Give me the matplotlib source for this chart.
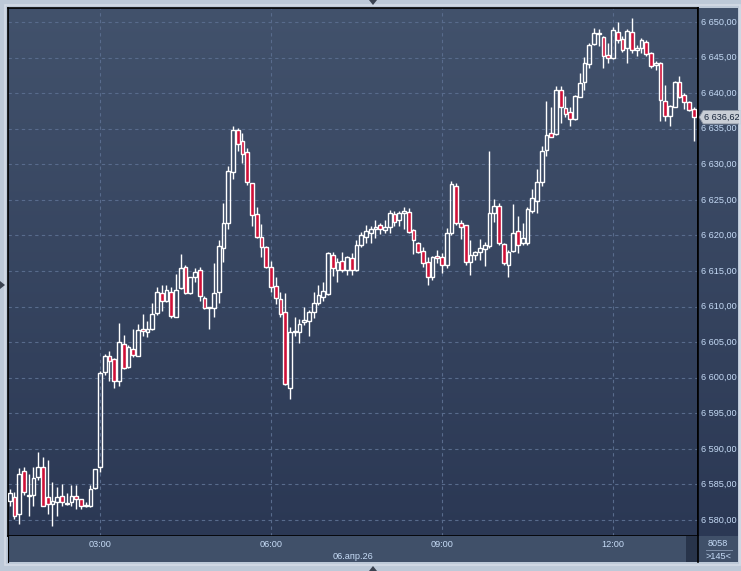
import numpy as np
import pandas as pd
import matplotlib.pyplot as plt
from matplotlib.patches import Rectangle, Polygon

# 5-minute candles, 06.04.26 01:25 .. 13:25
opens = [6582.6, 6583.2, 6580.9, 6586.9, 6583.4, 6583.5, 6586.0, 6587.4, 6583.2, 6582.3,
         6582.5, 6583.4, 6582.2, 6582.5, 6583.4, 6582.9, 6582.0, 6581.9, 6584.5, 6587.4,
         6600.8, 6603.0, 6602.6, 6599.6, 6604.8, 6601.5, 6604.1, 6603.1, 6606.8, 6606.4,
         6606.8, 6609.1, 6611.9, 6610.8, 6612.0, 6608.6, 6612.6, 6615.6, 6611.9, 6614.1,
         6615.2, 6611.2, 6609.8, 6609.8, 6612.0, 6618.2, 6621.8, 6628.9, 6634.8, 6633.3,
         6631.7, 6627.3, 6623.0, 6619.8, 6618.4, 6615.6, 6612.9, 6611.0, 6609.3, 6598.6,
         6606.4, 6606.4, 6607.8, 6607.9, 6609.3, 6610.5, 6611.3, 6611.8, 6617.3, 6615.2,
         6616.4, 6615.2, 6616.8, 6615.2, 6618.6, 6619.8, 6620.4, 6620.9, 6621.5, 6620.7,
         6621.2, 6623.0, 6622.1, 6623.2, 6623.3, 6620.7, 6619.0, 6617.8, 6616.2, 6614.1,
         6617.1, 6616.9, 6615.8, 6620.4, 6627.0, 6621.8, 6621.4, 6616.3, 6617.3, 6617.7,
         6618.1, 6618.5, 6623.1, 6624.2, 6618.8, 6615.9, 6617.8, 6620.6, 6618.9, 6618.9,
         6623.5, 6624.8, 6627.5, 6632.0, 6634.4, 6634.3, 6640.4, 6637.9, 6637.4, 6636.3,
         6639.5, 6641.6, 6644.1, 6646.9, 6648.3, 6647.9, 6645.3, 6644.9, 6648.6, 6647.6,
         6646.3, 6648.6, 6646.0, 6646.4, 6647.2, 6645.7, 6644.0, 6644.2, 6638.9, 6636.8,
         6638.1, 6641.5, 6639.7, 6638.7, 6637.8]
highs = [6584.3, 6584.0, 6587.3, 6587.5, 6586.5, 6587.4, 6589.6, 6588.9, 6588.4, 6585.4,
         6584.7, 6585.0, 6583.8, 6584.9, 6584.9, 6583.0, 6582.5, 6584.9, 6587.1, 6601.0,
         6603.3, 6603.7, 6602.7, 6607.7, 6606.0, 6604.6, 6606.8, 6607.5, 6609.0, 6607.9,
         6610.5, 6612.7, 6613.0, 6613.0, 6612.7, 6614.6, 6617.4, 6615.9, 6614.2, 6615.4,
         6615.5, 6611.5, 6610.0, 6616.1, 6619.4, 6624.5, 6629.8, 6635.4, 6635.1, 6634.4,
         6632.3, 6627.4, 6624.0, 6621.6, 6618.5, 6616.4, 6614.2, 6612.1, 6611.9, 6607.1,
         6608.5, 6608.2, 6609.9, 6609.5, 6612.0, 6613.0, 6613.5, 6617.6, 6617.7, 6616.8,
         6617.7, 6617.1, 6617.5, 6619.3, 6620.5, 6621.5, 6621.3, 6622.1, 6621.8, 6622.1,
         6623.6, 6623.4, 6623.5, 6624.0, 6623.8, 6620.9, 6619.1, 6618.4, 6617.0, 6617.1,
         6618.0, 6617.5, 6621.0, 6627.7, 6627.4, 6622.2, 6621.5, 6619.4, 6617.8, 6619.5,
         6619.1, 6631.9, 6625.1, 6624.5, 6619.0, 6618.0, 6624.4, 6622.7, 6621.7, 6624.0,
         6626.5, 6629.4, 6632.5, 6638.9, 6638.1, 6641.0, 6641.0, 6639.6, 6638.1, 6639.8,
         6642.9, 6645.1, 6647.0, 6649.1, 6649.0, 6648.0, 6647.0, 6649.3, 6650.0, 6648.1,
         6649.0, 6650.5, 6646.8, 6647.8, 6647.4, 6645.8, 6644.5, 6644.4, 6641.1, 6638.3,
         6641.7, 6642.4, 6640.0, 6638.9, 6638.0]
lows = [6582.0, 6580.2, 6579.5, 6583.5, 6580.6, 6581.9, 6585.6, 6581.9, 6580.9, 6579.1,
        6580.5, 6581.9, 6582.1, 6581.9, 6581.6, 6581.5, 6581.8, 6581.8, 6584.4, 6586.8,
        6600.4, 6599.6, 6598.5, 6598.9, 6601.2, 6601.4, 6602.9, 6603.0, 6605.9, 6605.7,
        6606.7, 6608.8, 6609.4, 6610.7, 6608.4, 6608.5, 6612.4, 6611.7, 6611.8, 6613.4,
        6610.8, 6609.6, 6606.8, 6608.6, 6610.5, 6616.3, 6620.9, 6627.9, 6631.8, 6630.2,
        6627.1, 6621.3, 6619.7, 6616.9, 6615.4, 6612.1, 6610.3, 6608.6, 6599.0, 6597.0,
        6605.9, 6604.9, 6607.4, 6605.9, 6608.4, 6610.2, 6610.8, 6611.6, 6614.3, 6613.4,
        6614.9, 6614.4, 6614.4, 6615.0, 6618.4, 6619.0, 6619.0, 6619.6, 6620.2, 6620.3,
        6620.3, 6621.3, 6621.3, 6620.9, 6620.4, 6617.4, 6617.5, 6615.6, 6613.0, 6613.8,
        6616.1, 6614.7, 6615.4, 6620.1, 6621.5, 6619.5, 6615.8, 6614.4, 6616.5, 6616.5,
        6615.7, 6618.2, 6621.9, 6618.6, 6615.8, 6614.2, 6617.7, 6617.5, 6618.7, 6618.7,
        6623.1, 6623.1, 6626.9, 6631.1, 6633.8, 6634.1, 6635.8, 6636.6, 6635.4, 6636.2,
        6639.4, 6640.4, 6643.6, 6646.7, 6646.6, 6643.5, 6644.2, 6644.8, 6647.0, 6645.8,
        6644.3, 6645.6, 6645.2, 6645.7, 6645.2, 6643.6, 6643.3, 6636.1, 6636.1, 6635.4,
        6638.0, 6639.3, 6637.8, 6637.5, 6633.3]
closes = [6583.8, 6580.6, 6586.5, 6584.0, 6583.5, 6585.9, 6587.4, 6582.0, 6582.2, 6582.6,
          6583.2, 6582.5, 6582.4, 6583.4, 6582.9, 6582.0, 6582.1, 6584.3, 6587.1, 6600.7,
          6603.0, 6602.4, 6599.6, 6605.0, 6601.4, 6604.3, 6603.2, 6606.7, 6606.5, 6606.9,
          6609.0, 6612.0, 6610.8, 6612.3, 6608.7, 6612.3, 6615.4, 6611.9, 6614.1, 6614.9,
          6611.5, 6609.8, 6609.9, 6611.9, 6618.5, 6621.7, 6629.1, 6634.8, 6632.9, 6631.4,
          6627.5, 6622.9, 6619.8, 6618.4, 6615.5, 6612.8, 6611.2, 6609.0, 6599.1, 6606.4,
          6606.6, 6607.5, 6608.1, 6609.2, 6610.5, 6611.6, 6612.2, 6617.5, 6615.4, 6616.2,
          6615.1, 6616.9, 6615.2, 6618.7, 6620.0, 6620.6, 6620.9, 6621.2, 6620.9, 6621.2,
          6623.1, 6621.9, 6623.2, 6623.4, 6620.5, 6619.3, 6617.7, 6616.1, 6614.2, 6617.0,
          6616.8, 6615.8, 6620.4, 6627.2, 6621.8, 6621.2, 6616.3, 6617.3, 6617.6, 6618.3,
          6618.7, 6623.1, 6624.1, 6618.9, 6616.1, 6617.7, 6620.4, 6618.6, 6619.7, 6623.7,
          6625.2, 6627.5, 6631.8, 6634.1, 6633.9, 6640.5, 6638.0, 6637.1, 6636.3, 6639.6,
          6641.4, 6644.3, 6646.8, 6648.5, 6648.4, 6645.2, 6644.9, 6648.9, 6647.5, 6646.1,
          6648.8, 6646.0, 6646.3, 6647.5, 6645.5, 6643.8, 6644.3, 6639.1, 6636.8, 6638.2,
          6641.5, 6639.4, 6638.8, 6637.7, 6636.62]

start_time = '2026-04-06 01:25'
date_label = '06.апр.26'
price_ticks = list(range(6580, 6651, 5))
volume_text = '8058'
count_text = '>145<'

W, H = 741, 571
FONT = 'Liberation Sans'
FS = 6.6
TXT = '#c6dbf6'
BG_TOP = np.array([66, 82, 108]) / 255
BG_BOT = np.array([43, 56, 84]) / 255
RED = '#cf1038'


def box(l, t, r, b):
    # pixel box -> figure fraction [left, bottom, width, height]
    return [l / W, 1 - b / H, (r - l) / W, (b - t) / H]


def gradient(a, top, bot):
    g = np.linspace(0, 1, 256)[:, None, None]
    img = top * (1 - g) + bot * g
    a.imshow(img, extent=[0, 1, 0, 1], transform=a.transAxes, aspect='auto',
             zorder=0, interpolation='bilinear')


def fmt(v):
    return f'{v:,.2f}'.replace(',', ' ').replace('.', ',')


times = pd.date_range(start_time, periods=len(closes), freq='5min')
n = len(closes)

fig = plt.figure(figsize=(W / 100, H / 100), dpi=100)
fig.patch.set_facecolor('#bdc9d8')

# light frame around chart
fig.add_artist(Rectangle((5 / W, 1 - 565 / H), 735 / W, 560 / H, transform=fig.transFigure,
                         facecolor='none', edgecolor='#d3dbe6', lw=1.2))

ax = fig.add_axes(box(8, 8, 698, 536))
xmin = -(9.7 - 8) / 4.75
xmax = n - 1 + (698 - 693.7) / 4.75
ytop = 6650 + (22 - 8) / 7.114
ybot = 6650 - (536 - 22) / 7.114
ax.set_xlim(xmin, xmax)
ax.set_ylim(ybot, ytop)
gradient(ax, BG_TOP, BG_BOT)

tick_idx = [i for i, t in enumerate(times) if t.minute == 0 and t.hour % 3 == 0]
for p in price_ticks:
    ax.axhline(p, color='#586b8c', lw=0.8, ls=(0, (3, 3)), zorder=1)
for i in tick_idx:
    ax.axvline(i, color='#586b8c', lw=0.8, ls=(0, (3, 3)), zorder=1)

bw = 0.78
for i in range(n):
    o, h, l, c = opens[i], highs[i], lows[i], closes[i]
    lo, hi = min(o, c), max(o, c)
    ax.vlines(i, l, lo, color='white', lw=1.0, zorder=2)
    ax.vlines(i, hi, h, color='white', lw=1.0, zorder=2)
    ht = max(hi - lo, 0.12)
    fc = RED if c < o else 'none'
    ax.add_patch(Rectangle((i - bw / 2, lo), bw, ht, facecolor=fc,
                           edgecolor='white', lw=1.0, zorder=3))

ax.set_xticks([])
ax.set_yticks([])
for s in ax.spines.values():
    s.set_color('black')
    s.set_linewidth(1.2)

# price panel
pax = fig.add_axes(box(698, 8, 738, 536))
pax.set_ylim(ybot, ytop)
pax.set_xlim(0, 1)
gradient(pax, BG_TOP, BG_BOT)
for p in price_ticks:
    pax.text(0.07, p, fmt(p), color=TXT, fontsize=FS, family=FONT, va='center', ha='left')
last = closes[-1]
pax.add_patch(Polygon([[0.03, last], [0.13, last + 0.95], [1.07, last + 0.95],
                       [1.07, last - 0.95], [0.13, last - 0.95]],
                      closed=True, facecolor='#c9ced6', edgecolor='#8d96a4', lw=0.6,
                      zorder=4, clip_on=False))
pax.text(0.14, last, fmt(last), color='#17243a', fontsize=FS, family=FONT,
         va='center', ha='left', zorder=5, clip_on=False)
pax.set_xticks([])
pax.set_yticks([])
for s in pax.spines.values():
    s.set_visible(False)
pax.spines['left'].set_visible(True)
pax.spines['left'].set_color('black')
pax.spines['left'].set_linewidth(1.2)

# time panel
tax = fig.add_axes(box(8, 536, 698, 562))
tax.set_xlim(xmin, xmax)
tax.set_ylim(0, 1)
tax.set_facecolor('#405069')
for i in tick_idx:
    tax.text(i, 0.66, times[i].strftime('%H:%M'), color=TXT, fontsize=FS, family=FONT,
             ha='center', va='center')
tax.text(0.5, 0.2, date_label, transform=tax.transAxes, color=TXT, fontsize=FS,
         family=FONT, ha='center', va='center')
tax.add_patch(Rectangle((0.9826, 0), 0.0174, 1, transform=tax.transAxes,
                        facecolor='#28344a', edgecolor='none'))
tax.set_xticks([])
tax.set_yticks([])
for s in tax.spines.values():
    s.set_visible(False)
tax.spines['left'].set_visible(True)
tax.spines['left'].set_color('black')

# corner panel
cax = fig.add_axes(box(698, 536, 738, 562))
cax.set_facecolor('#405069')
cax.set_xlim(0, 1)
cax.set_ylim(0, 1)
cax.text(0.5, 0.72, volume_text, color=TXT, fontsize=FS, family=FONT, ha='center', va='center')
cax.plot([0.2, 0.85], [0.47, 0.47], color='#7f90aa', lw=0.7)
cax.text(0.5, 0.22, count_text, color=TXT, fontsize=FS, family=FONT, ha='center', va='center')
cax.set_xticks([])
cax.set_yticks([])
for s in cax.spines.values():
    s.set_visible(False)
cax.spines['left'].set_visible(True)
cax.spines['left'].set_color('black')
cax.spines['left'].set_linewidth(1.2)

# little scroll markers
for pts in ([[369, 0], [377, 0], [373, 5]], [[369, 571], [377, 571], [373, 566]],
            [[0, 281], [0, 289], [5, 285]]):
    fig.add_artist(Polygon([[x / W, 1 - y / H] for x, y in pts], closed=True,
                           transform=fig.transFigure, facecolor='#3a4250', edgecolor='none'))

fig.savefig('out.png', dpi=100, facecolor=fig.get_facecolor())
